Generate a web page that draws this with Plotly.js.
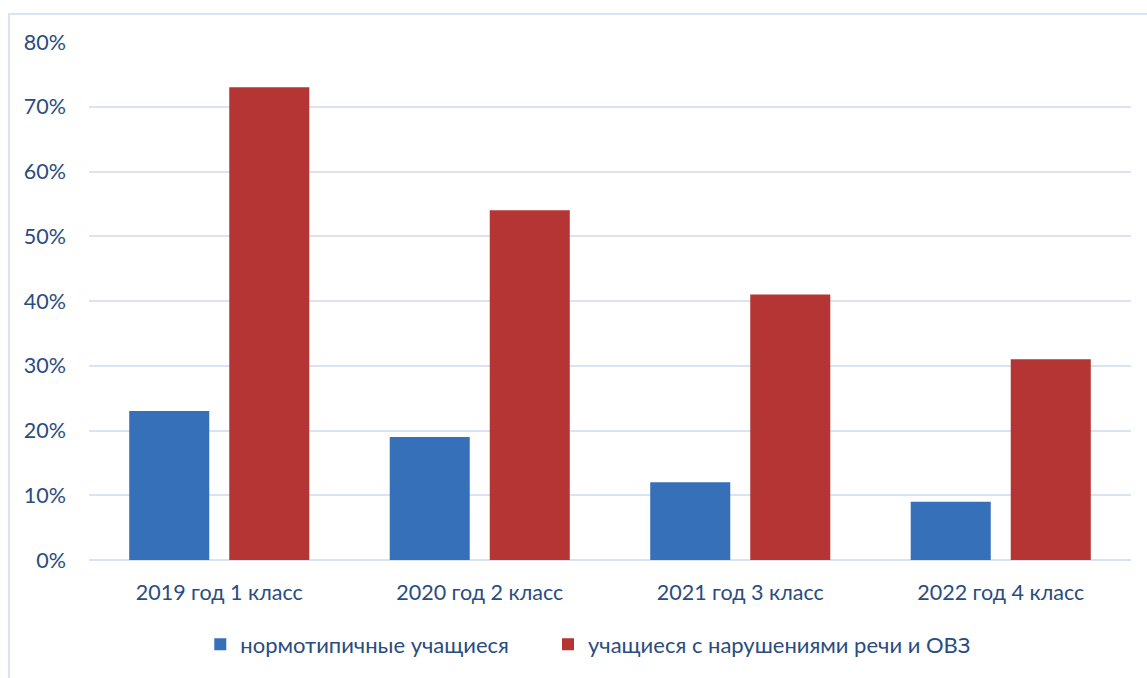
<!DOCTYPE html>
<html>
<head>
<meta charset="utf-8">
<script src="https://cdn.plot.ly/plotly-3.0.1.min.js"></script>
<style>
  html, body { margin: 0; padding: 0; background: #fff; overflow: hidden; }
  #frame { position: absolute; left: 8px; top: 13px; width: 1200px; height: 720px;
           border-left: 2px solid #D9E3F1; border-top: 2px solid #D9E3F1; pointer-events: none; z-index: 5; }
  #chart { position: absolute; left: 0; top: 0; width: 1147px; height: 678px; }
</style>
</head>
<body>
<div id="chart"></div>
<div id="frame"></div>
<script>
const categories = ['2019 год 1 класс', '2020 год 2 класс', '2021 год 3 класс', '2022 год 4 класс'];
const seriesNames = ['нормотипичные учащиеся', 'учащиеся с нарушениями речи и ОВЗ'];
const normValues = [0.23, 0.19, 0.12, 0.09];
const ovzValues = [0.73, 0.54, 0.41, 0.31];
const yTickValues = [0, 0.1, 0.2, 0.3, 0.4, 0.5, 0.6, 0.7, 0.8];

const textColor = '#2A4C7F';
const font = { family: 'Lato, "Open Sans", sans-serif', size: 21.5, color: textColor };
const legendFont = { family: font.family, size: 22, color: textColor };

const traces = [
  { type: 'bar', name: seriesNames[0], x: categories, y: normValues,
    marker: { color: '#3670B9' }, hoverinfo: 'x+y', legend: 'legend' },
  { type: 'bar', name: seriesNames[1], x: categories, y: ovzValues,
    marker: { color: '#B43533' }, hoverinfo: 'x+y', legend: 'legend2' }
];

const layout = {
  width: 1147, height: 678,
  margin: { l: 89, r: 16, t: 42, b: 116 },
  paper_bgcolor: '#ffffff', plot_bgcolor: '#ffffff',
  font: font,
  barmode: 'group',
  bargap: 0.232,
  bargroupgap: 0.2,
  showlegend: true,
  legend: {
    orientation: 'h', x: 0.1068, xanchor: 'left', y: -0.163, yanchor: 'middle',
    font: legendFont, itemwidth: 30, itemclick: false
  },
  legend2: {
    orientation: 'h', x: 0.4405, xanchor: 'left', y: -0.163, yanchor: 'middle',
    font: legendFont, itemwidth: 30, itemclick: false
  },
  xaxis: {
    type: 'category', showgrid: false, zeroline: false, showline: false,
    ticks: '', ticklabelstandoff: 17, tickfont: font
  },
  yaxis: {
    range: [0, 0.8], tickvals: yTickValues, tickformat: '.0%',
    showgrid: true, gridcolor: '#D9E3F1', gridwidth: 2,
    zeroline: true, zerolinecolor: '#D9E3F1', zerolinewidth: 2,
    showline: false, ticks: '', ticklabelstandoff: 22, tickfont: font
  }
};

Plotly.newPlot('chart', traces, layout, { staticPlot: true, displayModeBar: false });
</script>
</body>
</html>
